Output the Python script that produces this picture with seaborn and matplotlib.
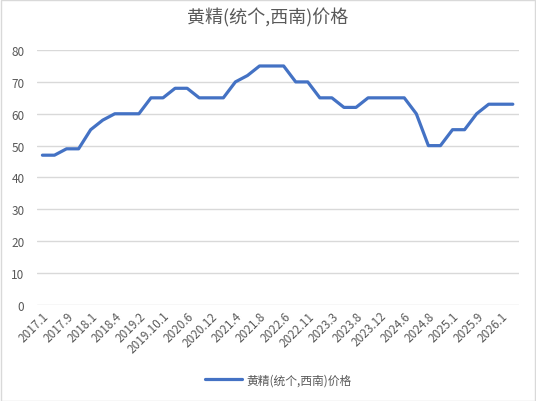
import numpy as np
import pandas as pd
import matplotlib
matplotlib.use('Agg')
import matplotlib.pyplot as plt
import seaborn as sns

# Tick labels shown on the x axis (every other data point is labelled)
tick_labels = ['2017.1', '2017.9', '2018.1', '2018.4', '2019.2', '2019.10.1', '2020.6',
               '2020.12', '2021.4', '2021.8', '2022.6', '2022.11', '2023.3', '2023.8',
               '2023.12', '2024.6', '2024.8', '2025.1', '2025.9', '2026.1']

# Price series
prices = [47, 47, 49, 49, 55, 58, 60, 60, 60, 65,
          65, 68, 68, 65, 65, 65, 70, 72, 75, 75,
          75, 70, 70, 65, 65, 62, 62, 65, 65, 65,
          65, 60, 50, 50, 55, 55, 60, 63, 63, 63]

series_name = '黄精(统个,西南)价格'

sns.set_theme(style='white')
plt.rcParams['font.family'] = ['Noto Sans CJK SC', 'DejaVu Sans']

df = pd.DataFrame({'idx': np.arange(len(prices)), 'price': prices})

fig = plt.figure(figsize=(5.36, 4.02), dpi=100)
ax = fig.add_axes([0.069, 0.239, 0.899, 0.634])

sns.lineplot(data=df, x='idx', y='price', ax=ax, color='#4472C4', linewidth=2.3,
             label=series_name)

ax.set_ylim(0, 80)
ax.set_yticks(range(0, 81, 10))
ax.set_xlim(-0.45, len(prices) - 0.5)
ax.set_xticks(np.arange(0, len(prices), 2))
ax.set_xticklabels(tick_labels, rotation=45, ha='right', rotation_mode='anchor')
ax.tick_params(axis='both', colors='#595959', labelsize=8.5, length=0)
ax.tick_params(axis='x', pad=3)
ax.tick_params(axis='y', pad=9)
ax.yaxis.grid(True, color='#d9d9d9', linewidth=1)
ax.set_axisbelow(True)
for s in ax.spines.values():
    s.set_visible(False)
ax.set_xlabel('')
ax.set_ylabel('')

fig.suptitle(series_name, y=0.98, fontsize=13, color='#595959')

ax.legend(loc='center', bbox_to_anchor=(0.5, -0.295), frameon=False, fontsize=8.5,
          labelcolor='#595959', handlelength=3.2, handletextpad=0.3)

# light border round the chart
fig.patches.append(plt.Rectangle((0.001, 0.001), 0.997, 0.997, transform=fig.transFigure,
                                 fill=False, edgecolor='#d9d9d9', linewidth=1))

fig.savefig('out.png', dpi=100)
